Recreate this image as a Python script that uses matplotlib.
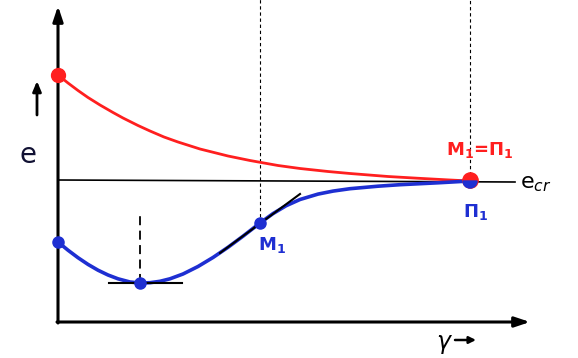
import matplotlib
matplotlib.use("Agg")
import matplotlib.pyplot as plt
from matplotlib.patches import Wedge

# e(gamma) curves (arbitrary units)
red_gamma = [0, 10, 20, 30, 42, 55, 65, 80, 92, 106, 120, 142, 170, 192, 220, 242, 270, 292, 330, 359, 392, 412]
red_e     = [247, 239, 231.5, 224.5, 217, 209.5, 204, 196.5, 191, 185, 180, 173, 166, 161.5, 156.5, 153.5,
             150.5, 148.5, 145.5, 143.8, 142, 141]

blue_gamma = [0, 10, 20, 30, 40, 50, 60, 72, 82, 92, 102, 112, 125, 140, 155, 170, 185, 202,
              215, 228, 242, 260, 275, 292, 320, 342, 380, 412]
blue_e     = [80, 71.8, 64.3, 57.6, 51.8, 47.0, 43.2, 40.0, 39.0, 39.3, 40.7, 43.2, 48.0, 55.5, 64.5, 74.7, 85.8, 99,
              108.4, 116.2, 122.5, 127.9, 130.9, 133.3, 135.8, 137.3, 139.2, 141]

e_cr = 141
gamma_min, e_min = 82, 39
gamma_M1, e_M1 = 202, 99
gamma_P1, e_P1 = 412, 141
tangent_gamma = [162, 242]
tangent_e = [69, 128]

RED = "#ff1f1f"
BLUE = "#1e2fd2"

fig = plt.figure(figsize=(5.78, 3.58), dpi=100)
ax = fig.add_axes([0, 0, 1, 1])
ax.set_xlim(-58, 520)
ax.set_ylim(-36, 322)
ax.axis("off")

# axes with arrows
ax.annotate("", xy=(0, 316), xytext=(0, -1),
            arrowprops=dict(arrowstyle="-|>,head_length=0.9,head_width=0.3", lw=2.2, color="black",
                            shrinkA=0, shrinkB=0))
ax.annotate("", xy=(472, 0), xytext=(-1, 0),
            arrowprops=dict(arrowstyle="-|>,head_length=0.9,head_width=0.3", lw=2.2, color="black",
                            shrinkA=0, shrinkB=0))

# critical line
ax.plot([0, 457], [e_cr + 1, e_cr - 1], color="black", lw=1.2)

# dashed guides
ax.plot([gamma_M1, gamma_M1], [e_M1, 330], color="black", lw=0.8, ls=(0, (3, 2.5)))
ax.plot([gamma_P1, gamma_P1], [e_P1, 330], color="black", lw=0.8, ls=(0, (3, 2.5)))
ax.plot([gamma_min, gamma_min], [e_min, 107], color="black", lw=1.3, ls=(0, (5, 3)))

# curves
ax.plot(red_gamma, red_e, color=RED, lw=2.0, solid_capstyle="round", solid_joinstyle="round")
ax.plot(blue_gamma, blue_e, color=BLUE, lw=2.6, solid_capstyle="round", solid_joinstyle="round")

# tangents
ax.plot([51, 124], [e_min, e_min], color="black", lw=1.5, zorder=3)
ax.plot(tangent_gamma, tangent_e, color="black", lw=1.5, zorder=3)

# points
ax.plot([0], [red_e[0]], "o", color=RED, ms=10, zorder=5)
ax.plot([0, gamma_min, gamma_M1], [blue_e[0], e_min, e_M1], "o", color=BLUE, ms=8, zorder=5)
ax.plot([gamma_P1], [e_P1 + 1], "o", color=RED, ms=11, zorder=6)
ax.add_patch(Wedge((gamma_P1, e_P1), 7, 180, 360, color=BLUE, zorder=7))

# labels
ax.text(-30, 167, "e", fontsize=20, ha="center", va="center", color="#111133")
ax.annotate("", xy=(-21, 241), xytext=(-21, 207),
            arrowprops=dict(arrowstyle="-|>,head_length=0.6,head_width=0.25", lw=2.0, color="black",
                            shrinkA=0, shrinkB=0))
ax.text(200, 77, "M$_\\mathbf{1}$", fontsize=13, fontweight="bold", color=BLUE, ha="left", va="center")
ax.text(422, 172, "M$_\\mathbf{1}$=$\\mathbf{\\Pi}_\\mathbf{1}$", fontsize=13, fontweight="bold",
        color=RED, ha="center", va="center")
ax.text(418, 110, "$\\mathbf{\\Pi}_\\mathbf{1}$", fontsize=13, fontweight="bold", color=BLUE,
        ha="center", va="center")
ax.text(462, 138, "e$_{cr}$", fontsize=16, color="black", ha="left", va="center")
ax.text(387, -22, "$\\gamma$", fontsize=17, color="black", ha="center", va="center")
ax.annotate("", xy=(418, -18), xytext=(397, -18),
            arrowprops=dict(arrowstyle="-|>,head_length=0.4,head_width=0.2", lw=1.8, color="black",
                            shrinkA=0, shrinkB=0))

fig.savefig("out.png", dpi=100, facecolor="white")
